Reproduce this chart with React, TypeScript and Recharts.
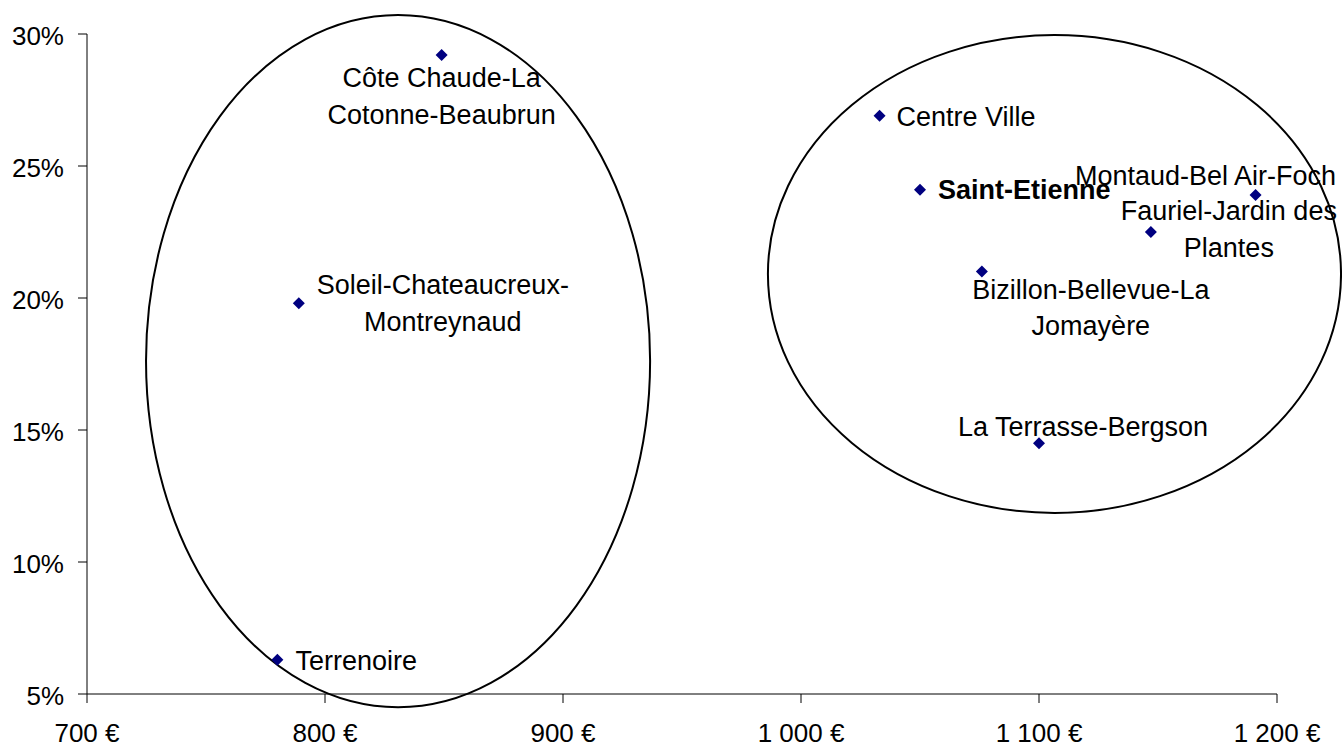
import { ReferenceArea, Scatter, ScatterChart, XAxis, YAxis } from 'recharts'

// Quartiers de Saint-Etienne: revenu médian mensuel vs part (%)
const quartiers = [
  'Côte Chaude-La Cotonne-Beaubrun',
  'Soleil-Chateaucreux-Montreynaud',
  'Terrenoire',
  'Centre Ville',
  'Saint-Etienne',
  'Montaud-Bel Air-Foch',
  'Fauriel-Jardin des Plantes',
  'Bizillon-Bellevue-La Jomayère',
  'La Terrasse-Bergson',
]
const revenus = [849, 789, 780, 1033, 1050, 1191, 1147, 1076, 1100]
const parts = [29.2, 19.8, 6.3, 26.9, 24.1, 23.9, 22.5, 21.0, 14.5]

const xTicks = [700, 800, 900, 1000, 1100, 1200]
const yTicks = [5, 10, 15, 20, 25, 30]

// the two hand-drawn groups (bounding boxes in data units)
const groupes = [
  { x1: 724.8, x2: 936.6, y1: 4.5, y2: 30.72 },
  { x1: 986.1, x2: 1226.9, y1: 11.86, y2: 29.96 },
]

// label placement, same order as quartiers
const placements = [
  { lines: ['Côte Chaude-La', 'Cotonne-Beaubrun'], anchor: 'middle', dx: 0, dy: 32 },
  { lines: ['Soleil-Chateaucreux-', 'Montreynaud'], anchor: 'middle', dx: 144, dy: -9 },
  { lines: ['Terrenoire'], anchor: 'start', dx: 18, dy: 10 },
  { lines: ['Centre Ville'], anchor: 'start', dx: 17, dy: 10 },
  { lines: ['Saint-Etienne'], anchor: 'start', dx: 18, dy: 9, bold: true },
  { lines: ['Montaud-Bel Air-Foch'], anchor: 'middle', dx: -50, dy: -10 },
  { lines: ['Fauriel-Jardin des', 'Plantes'], anchor: 'middle', dx: 78, dy: -12 },
  { lines: ['Bizillon-Bellevue-La', 'Jomayère'], anchor: 'middle', dx: 109, dy: 27 },
  { lines: ['La Terrasse-Bergson'], anchor: 'middle', dx: 44, dy: -7 },
]

const data = quartiers.map((nom, i) => ({ nom, x: revenus[i], y: parts[i], idx: i }))

const formatEuro = (v: number) =>
  v >= 1000 ? `${Math.floor(v / 1000)} ${String(v % 1000).padStart(3, '0')} €` : `${v} €`

const FONT = '"Liberation Sans", Arial, sans-serif'
const LINE_H = 36.5

const Point = (props: any) => {
  const { cx, cy, payload } = props
  const p = placements[payload.idx]
  return (
    <g>
      <polygon
        points={`${cx},${cy - 6} ${cx + 6},${cy} ${cx},${cy + 6} ${cx - 6},${cy}`}
        fill="#000080"
      />
      {p.lines.map((line, j) => (
        <text
          key={j}
          x={cx + p.dx}
          y={cy + p.dy + j * LINE_H}
          textAnchor={p.anchor as any}
          fontSize={27}
          fontFamily={FONT}
          fontWeight={p.bold ? 'bold' : 'normal'}
          fill="#000"
        >
          {line}
        </text>
      ))}
    </g>
  )
}

const Ellipse = (props: any) => {
  const { x, y, width, height } = props
  return (
    <ellipse
      cx={x + width / 2}
      cy={y + height / 2}
      rx={Math.abs(width) / 2}
      ry={Math.abs(height) / 2}
      fill="none"
      stroke="#000"
      strokeWidth={2}
    />
  )
}

export default function App() {
  return (
    <div style={{ width: 1342, height: 747, background: '#fff', fontFamily: FONT }}>
      <style>{'body{margin:0}'}</style>
      <ScatterChart
        width={1342}
        height={747}
        margin={{ top: 34, right: 65, bottom: 0, left: 0 }}
      >
        <XAxis
          type="number"
          dataKey="x"
          domain={[700, 1200]}
          ticks={xTicks}
          tickFormatter={formatEuro}
          height={53}
          tickSize={9}
          tickMargin={21}
          axisLine={{ stroke: '#000' }}
          tickLine={{ stroke: '#000' }}
          tick={{ fill: '#000', fontSize: 26, fontFamily: FONT }}
        />
        <YAxis
          type="number"
          dataKey="y"
          domain={[5, 30]}
          ticks={yTicks}
          tickFormatter={(v: number) => `${v}%`}
          width={87}
          tickSize={9}
          tickMargin={14}
          axisLine={{ stroke: '#000' }}
          tickLine={{ stroke: '#000' }}
          tick={{ fill: '#000', fontSize: 26, fontFamily: FONT, dy: 2 }}
        />
        {groupes.map((g, i) => (
          <ReferenceArea
            key={i}
            x1={g.x1}
            x2={g.x2}
            y1={g.y1}
            y2={g.y2}
            ifOverflow="visible"
            shape={<Ellipse />}
          />
        ))}
        <Scatter data={data} shape={<Point />} isAnimationActive={false} />
      </ScatterChart>
    </div>
  )
}
